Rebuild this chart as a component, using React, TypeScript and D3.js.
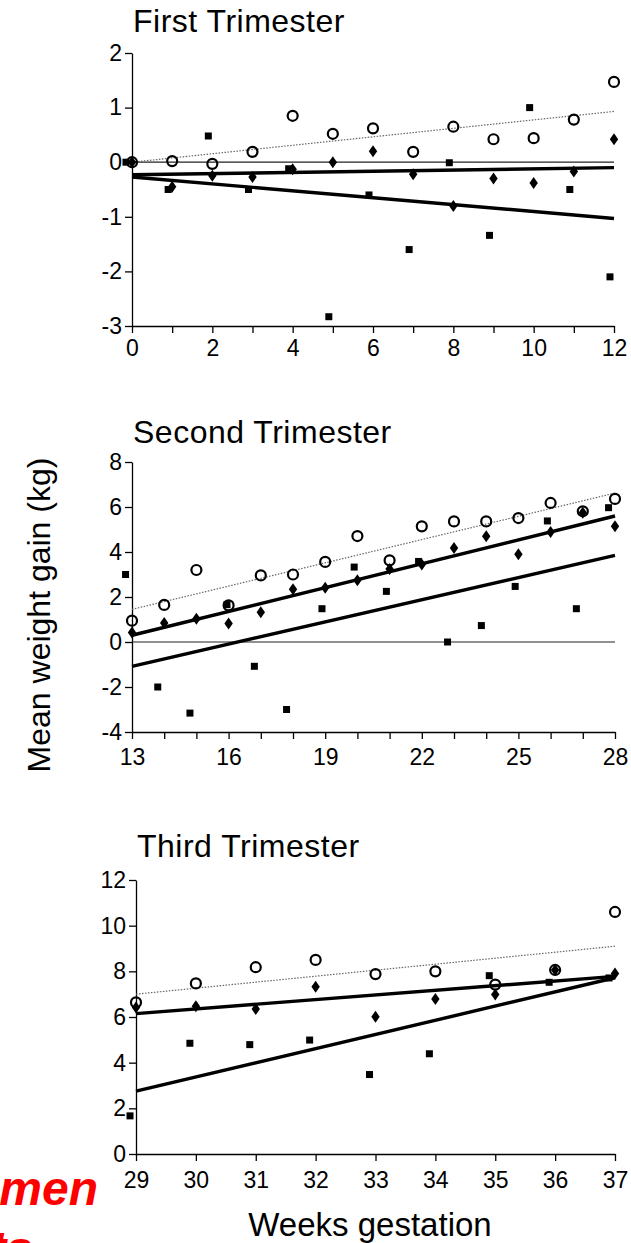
import React, { useEffect, useRef } from 'react';
import * as d3 from 'd3';

// First trimester, weeks 0-12
const t1Weeks = [0, 1, 2, 3, 4, 5, 6, 7, 8, 9, 10, 11, 12];
const t1Open = [0, 0.02, -0.03, 0.19, 0.85, 0.52, 0.62, 0.19, 0.65, 0.42, 0.44, 0.78, 1.47];
const t1Diamond = [0, -0.45, -0.25, -0.27, -0.13, 0.0, 0.2, -0.22, -0.8, -0.3, -0.38, -0.17, 0.42];
const t1SquareWeeks = [-0.15, 0.9, 1.9, 2.9, 3.9, 4.9, 5.9, 6.9, 7.9, 8.9, 9.9, 10.9, 11.9];
const t1Square = [0, -0.5, 0.48, -0.5, -0.12, -2.83, -0.6, -1.6, -0.01, -1.34, 1.0, -0.5, -2.1];
const t1FitOpen = [0.0, 0.93];
const t1FitDiamond = [-0.23, -0.1];
const t1FitSquare = [-0.27, -1.03];
const t1XLabels = [0, 2, 4, 6, 8, 10, 12];
const t1YTicks = [-3, -2, -1, 0, 1, 2];

// Second trimester, weeks 13-28
const t2Weeks = [13, 14, 15, 16, 17, 18, 19, 20, 21, 22, 23, 24, 25, 26, 27, 28];
const t2Open = [0.95, 1.65, 3.2, 1.63, 2.96, 3.0, 3.56, 4.71, 3.63, 5.14, 5.36, 5.36, 5.51, 6.18, 5.81, 6.36];
const t2Diamond = [0.42, 0.85, 1.03, 0.82, 1.32, 2.34, 2.41, 2.74, 3.25, 3.45, 4.18, 4.7, 3.9, 4.89, 5.75, 5.14];
const t2SquareWeeks = [12.8, 13.8, 14.8, 15.95, 16.8, 17.8, 18.9, 19.9, 20.9, 21.9, 22.8, 23.85, 24.9, 25.9, 26.8, 27.8];
const t2Square = [3.0, -2.0, -3.16, 1.66, -1.08, -3.0, 1.48, 3.33, 2.25, 3.58, 0.0, 0.73, 2.47, 5.38, 1.48, 5.97];
const t2FitOpen = [1.45, 6.62];
const t2FitDiamond = [0.3, 5.6];
const t2FitSquare = [-1.08, 3.85];
const t2XLabels = [13, 16, 19, 22, 25, 28];
const t2YTicks = [-4, -2, 0, 2, 4, 6, 8];

// Third trimester, weeks 29-37
const t3Weeks = [29, 30, 31, 32, 33, 34, 35, 36, 37];
const t3Open = [6.64, 7.47, 8.18, 8.5, 7.88, 8.0, 7.42, 8.06, 10.6];
const t3Diamond = [6.42, 6.47, 6.35, 7.33, 6.01, 6.79, 6.98, 8.06, 7.9];
const t3SquareWeeks = [28.9, 29.9, 30.9, 31.9, 32.9, 33.9, 34.9, 35.9, 36.9];
const t3Square = [1.67, 4.85, 4.79, 4.99, 3.48, 4.39, 7.81, 7.52, 7.71];
const t3FitOpen = [7.0, 9.1];
const t3FitDiamond = [6.15, 7.78];
const t3FitSquare = [2.75, 7.72];
const t3XLabels = [29, 30, 31, 32, 33, 34, 35, 36, 37];
const t3YTicks = [0, 2, 4, 6, 8, 10, 12];

const FONT = '"Liberation Sans", Arial, Helvetica, sans-serif';

export default function App() {
    const svgRef = useRef<SVGSVGElement>(null);

    useEffect(() => {
        const svg = d3.select(svgRef.current);
        svg.selectAll('*').remove();

        const panels = [
            { title: 'First Trimester', titleY: 32, weeks: t1Weeks, open: t1Open, diamond: t1Diamond,
              sqWeeks: t1SquareWeeks, square: t1Square, fits: [t1FitOpen, t1FitDiamond, t1FitSquare],
              xLabels: t1XLabels, yTicks: t1YTicks, xRange: [132, 614], yRange: [326, 53], xPad: 7, zero: true },
            { title: 'Second Trimester', titleY: 443, weeks: t2Weeks, open: t2Open, diamond: t2Diamond,
              sqWeeks: t2SquareWeeks, square: t2Square, fits: [t2FitOpen, t2FitDiamond, t2FitSquare],
              xLabels: t2XLabels, yTicks: t2YTicks, xRange: [132, 615], yRange: [732, 462], xPad: 10, zero: true },
            { title: 'Third Trimester', titleY: 857, weeks: t3Weeks, open: t3Open, diamond: t3Diamond,
              sqWeeks: t3SquareWeeks, square: t3Square, fits: [t3FitOpen, t3FitDiamond, t3FitSquare],
              xLabels: t3XLabels, yTicks: t3YTicks, xRange: [136, 615], yRange: [1154, 880], xPad: 11, zero: false },
        ];

        const diamondPath = 'M0,-6L4.2,0L0,6L-4.2,0Z';

        panels.forEach(p => {
            const first = p.weeks[0];
            const last = p.weeks[p.weeks.length - 1];
            const x = d3.scaleLinear().domain([first, last]).range(p.xRange);
            const y = d3.scaleLinear().domain([p.yTicks[0], p.yTicks[p.yTicks.length - 1]]).range(p.yRange);
            const g = svg.append('g');

            // title
            g.append('text')
                .attr('x', p.xRange[0] + 1)
                .attr('y', p.titleY)
                .style('font-family', FONT)
                .style('font-size', '32px')
                .style('letter-spacing', '0.5px')
                .text(p.title);

            // x axis, a tick every week
            const xAxis = g.append('g')
                .attr('transform', `translate(0,${p.yRange[0]})`)
                .call(d3.axisBottom(x)
                    .tickValues(p.weeks)
                    .tickSize(7)
                    .tickSizeOuter(0)
                    .tickPadding(p.xPad)
                    .tickFormat(d => (p.xLabels.includes(+d) ? String(d) : '')));
            xAxis.selectAll('text').style('font-size', '23px').style('font-family', FONT).attr('fill', '#000');

            // y axis (plain hyphen for negatives, like the original)
            const yAxis = g.append('g')
                .attr('transform', `translate(${p.xRange[0]},0)`)
                .call(d3.axisLeft(y).tickValues(p.yTicks).tickSize(7).tickSizeOuter(0).tickPadding(3)
                    .tickFormat(d => String(d)));
            yAxis.selectAll('text').style('font-size', '23px').style('font-family', FONT).attr('fill', '#000');
            g.selectAll('.domain, .tick line').attr('stroke', '#000').attr('stroke-width', 1.3);

            // zero reference line
            if (p.zero) {
                g.append('line')
                    .attr('x1', p.xRange[0]).attr('x2', p.xRange[1])
                    .attr('y1', y(0)).attr('y2', y(0))
                    .attr('stroke', '#222').attr('stroke-width', 1.2);
            }

            // regression lines
            p.fits.forEach((f, i) => {
                g.append('line')
                    .attr('x1', x(first)).attr('x2', x(last))
                    .attr('y1', y(f[0])).attr('y2', y(f[1]))
                    .attr('stroke', i === 0 ? '#666' : '#000')
                    .attr('stroke-width', i === 0 ? 1.2 : 3.4)
                    .attr('stroke-dasharray', i === 0 ? '1.5,1.5' : null);
            });

            // open circles
            g.append('g').selectAll('circle')
                .data(p.weeks.map((w, i) => [w, p.open[i]]))
                .enter().append('circle')
                .attr('cx', d => x(d[0])).attr('cy', d => y(d[1]))
                .attr('r', 5).attr('fill', 'none').attr('stroke', '#000').attr('stroke-width', 2.2);

            // squares
            g.append('g').selectAll('rect')
                .data(p.sqWeeks.map((w, i) => [w, p.square[i]]))
                .enter().append('rect')
                .attr('x', d => x(d[0]) - 3.5).attr('y', d => y(d[1]) - 3.5)
                .attr('width', 7).attr('height', 7).attr('fill', '#000');

            // diamonds
            g.append('g').selectAll('path')
                .data(p.weeks.map((w, i) => [w, p.diamond[i]]))
                .enter().append('path')
                .attr('transform', d => `translate(${x(d[0])},${y(d[1])})`)
                .attr('d', diamondPath).attr('fill', '#000');
        });

        // shared axis labels
        svg.append('text')
            .attr('transform', 'translate(50,615) rotate(-90)')
            .attr('text-anchor', 'middle')
            .style('font-family', FONT)
            .style('font-size', '32px')
            .text('Mean weight gain (kg)');

        svg.append('text')
            .attr('x', 370).attr('y', 1236)
            .attr('text-anchor', 'middle')
            .style('font-family', FONT)
            .style('font-size', '33px')
            .text('Weeks gestation');

        // leftover slide text at the lower left
        svg.append('text')
            .attr('x', 98).attr('y', 1205)
            .attr('text-anchor', 'end')
            .style('font-family', FONT)
            .style('font-size', '48px')
            .style('font-weight', 'bold')
            .style('font-style', 'italic')
            .attr('fill', '#ff0000')
            .text('men');
        svg.append('text')
            .attr('x', 33).attr('y', 1265)
            .attr('text-anchor', 'end')
            .style('font-family', FONT)
            .style('font-size', '48px')
            .style('font-weight', 'bold')
            .style('font-style', 'italic')
            .attr('fill', '#ff0000')
            .text('ts');
    }, []);

    return (
        <svg ref={svgRef} width={631} height={1243}
            style={{ position: 'absolute', left: 0, top: 0, background: '#fff' }} />
    );
}
